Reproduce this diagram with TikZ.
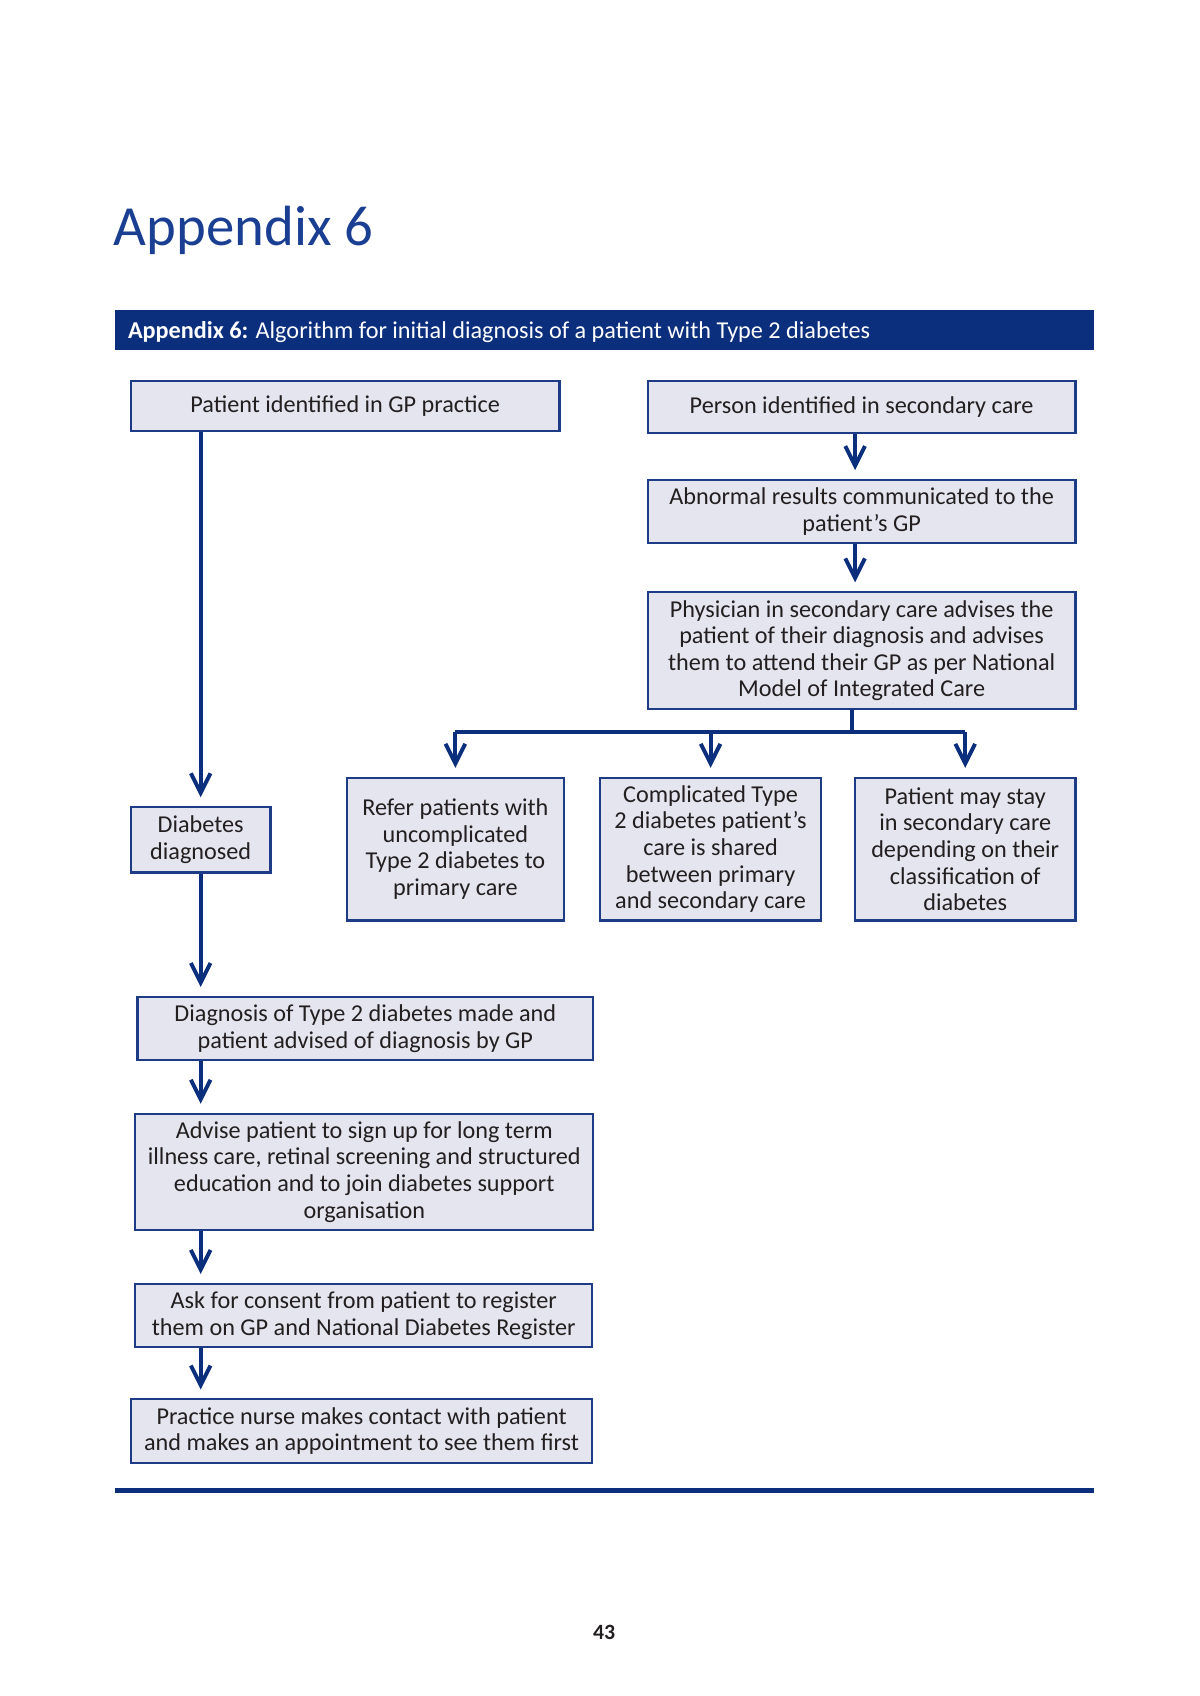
\documentclass[tikz,border=0pt]{standalone}
\usepackage{fontspec}
\setmainfont{Carlito}
\usetikzlibrary{arrows.meta}
\definecolor{navy}{HTML}{0B2F7C}
\definecolor{boxline}{HTML}{1E3C86}
\definecolor{boxfill}{HTML}{E5E5F0}
\definecolor{txt}{HTML}{231F20}
\definecolor{titleblue}{HTML}{1A3E91}
\tikzset{
  fbox/.style={draw=boxline, line width=1pt, fill=boxfill, rectangle, align=center,
    inner sep=0pt, text=txt, font=\fontsize{11.1}{12.2}\selectfont},
  flow/.style={draw=navy, line width=1.8pt, -{Straight Barb[length=9pt,width=9pt,line width=1.8pt]}, shorten >=4pt},
  plainline/.style={draw=navy, line width=1.8pt}
}
\begin{document}
\begin{tikzpicture}[x=0.5pt,y=-0.5pt]
\useasboundingbox (0,0) rectangle (1100,1555);
% title
\node[anchor=base west, inner sep=0pt, text=titleblue, font=\fontsize{26}{30}\selectfont] (ttl) at (104,225) {Appendix 6};
% bar
\fill[navy] (105,284) rectangle (1003,321);
\node[anchor=base west, inner sep=0pt, text=white, font=\fontsize{11.1}{12}\selectfont] (bar) at (117,310) {\textbf{Appendix 6:} Algorithm for initial diagnosis of a patient with Type 2 diabetes};
% boxes
\node[fbox, minimum width=196.5pt, minimum height=23pt] (gp) at (316.5,372) {Patient identified in GP practice};
\node[fbox, minimum width=196pt, minimum height=24pt] (sec) at (790,373) {Person identified in secondary care};
\node[fbox, minimum width=196pt, minimum height=29pt] (abn) at (790,469) {Abnormal results communicated to the\\patient’s GP};
\node[fbox, minimum width=196pt, minimum height=53.5pt] (phys) at (790,596.5) {Physician in secondary care advises the\\patient of their diagnosis and advises\\them to attend their GP as per National\\Model of Integrated Care};
\node[fbox, minimum width=99.5pt, minimum height=65.5pt] (refer) at (417.5,778.5) {Refer patients with\\uncomplicated\\Type 2 diabetes to\\primary care};
\node[fbox, minimum width=101.5pt, minimum height=65.5pt] (comp) at (651.5,778.5) {Complicated Type\\2 diabetes patient’s\\care is shared\\between primary\\and secondary care};
\node[fbox, minimum width=101pt, minimum height=65.5pt] (stay) at (885,778.5) {Patient may stay\\in secondary care\\depending on their\\classification of\\diabetes};
\node[fbox, minimum width=64pt, minimum height=30pt] (dd) at (184,770) {Diabetes\\diagnosed};
\node[fbox, minimum width=209pt, minimum height=29pt] (diag) at (335,943) {Diagnosis of Type 2 diabetes made and\\patient advised of diagnosis by GP};
\node[fbox, minimum width=210pt, minimum height=53.5pt] (adv) at (334,1074.5) {Advise patient to sign up for long term\\illness care, retinal screening and structured\\education and to join diabetes support\\organisation};
\node[fbox, minimum width=209.5pt, minimum height=29pt] (ask) at (333.5,1206) {Ask for consent from patient to register\\them on GP and National Diabetes Register};
\node[fbox, minimum width=211.5pt, minimum height=29pt] (nurse) at (331.5,1312) {Practice nurse makes contact with patient\\and makes an appointment to see them first};
% helper coordinates
\coordinate (colL) at (184,0);
\coordinate (colR) at (784,0);
\coordinate (colP) at (781,671);
% left column arrows
\draw[flow] (gp.south -| colL) -- (dd.north);
\draw[flow] (dd.south) -- (diag.north -| colL);
\draw[flow] (diag.south -| colL) -- (adv.north -| colL);
\draw[flow] (adv.south -| colL) -- (ask.north -| colL);
\draw[flow] (ask.south -| colL) -- (nurse.north -| colL);
% right column arrows
\draw[flow] (sec.south -| colR) -- (abn.north -| colR);
\draw[flow] (abn.south -| colR) -- (phys.north -| colR);
\draw[plainline] (phys.south -| colP) -- (colP);
\draw[plainline] (refer.north |- colP) -- (stay.north |- colP);
\draw[flow] (refer.north |- colP) -- (refer.north);
\draw[flow] (comp.north |- colP) -- (comp.north);
\draw[flow] (stay.north |- colP) -- (stay.north);
% bottom rule
\fill[navy] (105,1364) rectangle (1003,1369);
% page number
\node[anchor=base, inner sep=0pt, text=txt, font=\fontsize{10}{12}\selectfont\bfseries] (pg) at (554,1503) {43};
\end{tikzpicture}
\end{document}
